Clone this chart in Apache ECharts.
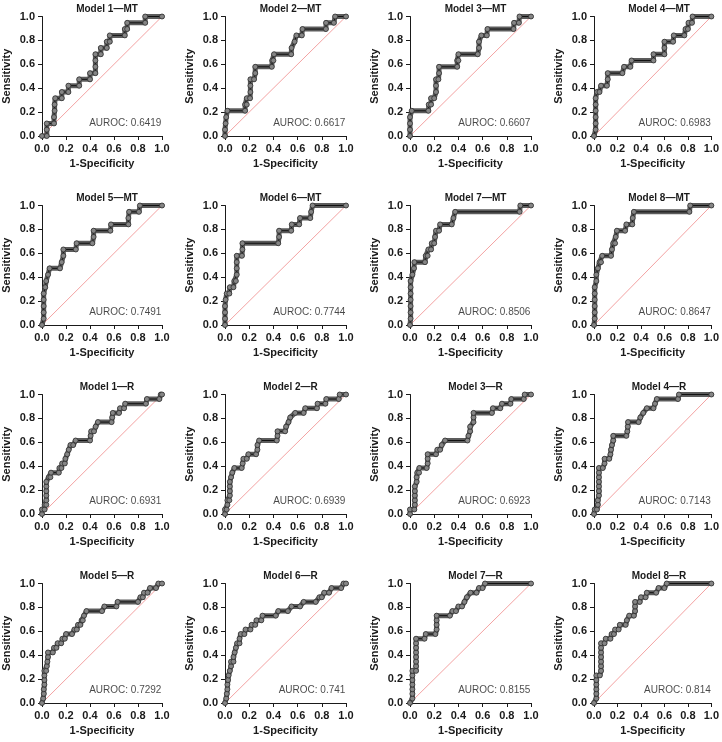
<!DOCTYPE html>
<html><head><meta charset="utf-8">
<script src="https://cdn.jsdelivr.net/npm/echarts@6/dist/echarts.min.js"></script>
<style>html,body{margin:0;padding:0;background:#fff}#c{width:722px;height:742px}</style>
</head><body><div id="c"></div>
<script>
const titles = ['Model 1\u2014MT','Model 2\u2014MT','Model 3\u2014MT','Model 4\u2014MT','Model 5\u2014MT','Model 6\u2014MT','Model 7\u2014MT','Model 8\u2014MT',
  'Model 1\u2014R','Model 2\u2014R','Model 3\u2014R','Model 4\u2014R','Model 5\u2014R','Model 6\u2014R','Model 7\u2014R','Model 8\u2014R'];
const aurocs = ['0.6419','0.6617','0.6607','0.6983','0.7491','0.7744','0.8506','0.8647','0.6931','0.6939','0.6923','0.7143','0.7292','0.741','0.8155','0.814'];
const axisTicks = [0, 0.2, 0.4, 0.6, 0.8, 1.0];
const diag = [[0,0],[1,1]];

const roc1MT = [[0,0],[0.04,0],[0.04,0.053],[0.04,0.105],[0.1,0.105],[0.1,0.158],[0.105,0.211],[0.105,0.263],[0.11,0.316],[0.165,0.316],[0.165,0.368],[0.22,0.368],[0.22,0.421],[0.31,0.421],[0.31,0.474],[0.4,0.474],[0.4,0.526],[0.445,0.526],[0.445,0.579],[0.445,0.632],[0.445,0.684],[0.49,0.684],[0.49,0.737],[0.54,0.737],[0.54,0.789],[0.565,0.789],[0.565,0.842],[0.69,0.842],[0.69,0.895],[0.71,0.895],[0.71,0.947],[0.86,0.947],[0.86,1],[1,1]];
const roc2MT = [[0,0],[0,0.053],[0.005,0.105],[0.01,0.158],[0.02,0.211],[0.166,0.211],[0.166,0.263],[0.18,0.263],[0.18,0.316],[0.207,0.316],[0.21,0.368],[0.21,0.421],[0.21,0.474],[0.24,0.474],[0.25,0.526],[0.25,0.579],[0.387,0.579],[0.39,0.632],[0.4,0.632],[0.405,0.684],[0.547,0.684],[0.55,0.737],[0.575,0.789],[0.59,0.842],[0.635,0.842],[0.64,0.895],[0.834,0.895],[0.835,0.947],[0.9,0.947],[0.91,1],[1,1]];
const roc3MT = [[0,0],[0,0.053],[0,0.105],[0,0.158],[0.014,0.211],[0.152,0.211],[0.155,0.263],[0.174,0.263],[0.174,0.316],[0.2,0.316],[0.215,0.368],[0.215,0.421],[0.215,0.474],[0.235,0.474],[0.24,0.526],[0.24,0.579],[0.39,0.579],[0.39,0.632],[0.4,0.632],[0.4,0.684],[0.56,0.684],[0.57,0.737],[0.57,0.789],[0.59,0.842],[0.635,0.842],[0.64,0.895],[0.856,0.895],[0.86,0.947],[0.9,0.947],[0.905,1],[1,1]];
const roc4MT = [[0,0],[0.014,0.053],[0.014,0.105],[0.014,0.158],[0.014,0.211],[0.014,0.263],[0.014,0.316],[0.025,0.368],[0.047,0.368],[0.06,0.421],[0.11,0.421],[0.117,0.474],[0.117,0.526],[0.242,0.526],[0.256,0.579],[0.31,0.579],[0.32,0.632],[0.507,0.632],[0.507,0.684],[0.6,0.684],[0.6,0.737],[0.6,0.789],[0.674,0.789],[0.68,0.842],[0.77,0.842],[0.78,0.895],[0.8,0.895],[0.805,0.947],[0.835,0.947],[0.84,1],[1,1]];
const roc5MT = [[0,0],[0.014,0.053],[0.014,0.105],[0.014,0.158],[0.014,0.211],[0.014,0.263],[0.027,0.316],[0.035,0.368],[0.05,0.421],[0.063,0.474],[0.15,0.474],[0.164,0.526],[0.178,0.579],[0.178,0.632],[0.282,0.632],[0.288,0.684],[0.42,0.684],[0.43,0.737],[0.43,0.789],[0.57,0.789],[0.575,0.842],[0.72,0.842],[0.72,0.895],[0.726,0.947],[0.808,0.947],[0.816,1],[1,1]];
const roc6MT = [[0,0],[0,0.053],[0,0.105],[0,0.158],[0.005,0.211],[0.014,0.263],[0.036,0.263],[0.04,0.316],[0.07,0.316],[0.077,0.368],[0.09,0.368],[0.097,0.421],[0.097,0.474],[0.097,0.526],[0.097,0.579],[0.14,0.579],[0.144,0.632],[0.144,0.684],[0.44,0.684],[0.447,0.737],[0.447,0.789],[0.547,0.789],[0.552,0.842],[0.613,0.842],[0.62,0.895],[0.705,0.895],[0.712,0.947],[0.724,1],[1,1]];
const roc7MT = [[0,0],[0.005,0.053],[0.005,0.105],[0.005,0.158],[0.005,0.211],[0.005,0.263],[0.005,0.316],[0.005,0.368],[0.02,0.421],[0.033,0.474],[0.036,0.526],[0.124,0.526],[0.13,0.579],[0.146,0.579],[0.152,0.632],[0.174,0.632],[0.18,0.684],[0.2,0.684],[0.207,0.737],[0.215,0.789],[0.24,0.789],[0.249,0.842],[0.345,0.842],[0.359,0.895],[0.373,0.947],[0.906,0.947],[0.912,1],[1,1]];
const roc8MT = [[0,0],[0.006,0.053],[0.006,0.105],[0.006,0.158],[0.006,0.211],[0.006,0.263],[0.006,0.316],[0.02,0.368],[0.02,0.421],[0.033,0.474],[0.047,0.526],[0.06,0.526],[0.07,0.579],[0.145,0.579],[0.153,0.632],[0.164,0.684],[0.18,0.684],[0.185,0.737],[0.195,0.789],[0.265,0.789],[0.276,0.842],[0.326,0.842],[0.33,0.895],[0.34,0.947],[0.813,0.947],[0.82,1],[1,1]];
const roc1R = [[0,0],[0,0.038],[0.022,0.038],[0.022,0.077],[0.036,0.077],[0.036,0.115],[0.036,0.154],[0.036,0.192],[0.036,0.231],[0.036,0.269],[0.056,0.308],[0.07,0.308],[0.075,0.346],[0.14,0.346],[0.145,0.385],[0.162,0.385],[0.168,0.423],[0.19,0.423],[0.195,0.462],[0.21,0.5],[0.223,0.538],[0.237,0.577],[0.26,0.577],[0.28,0.615],[0.40,0.615],[0.405,0.654],[0.41,0.692],[0.433,0.692],[0.447,0.731],[0.466,0.769],[0.58,0.769],[0.585,0.808],[0.59,0.846],[0.642,0.846],[0.65,0.885],[0.684,0.885],[0.693,0.923],[0.866,0.923],[0.874,0.962],[0.978,0.962],[0.99,1],[1,1]];
const roc2R = [[0,0],[0,0.038],[0.014,0.038],[0.02,0.077],[0.02,0.115],[0.036,0.115],[0.04,0.154],[0.04,0.192],[0.04,0.231],[0.04,0.269],[0.05,0.308],[0.06,0.346],[0.077,0.385],[0.138,0.385],[0.146,0.423],[0.152,0.462],[0.18,0.462],[0.193,0.5],[0.257,0.5],[0.268,0.538],[0.268,0.577],[0.282,0.615],[0.428,0.615],[0.434,0.654],[0.434,0.692],[0.497,0.692],[0.505,0.731],[0.525,0.769],[0.539,0.808],[0.58,0.846],[0.65,0.846],[0.663,0.885],[0.76,0.885],[0.765,0.923],[0.83,0.923],[0.837,0.962],[0.94,0.962],[0.948,1],[1,1]];
const roc3R = [[0,0],[0,0.038],[0.036,0.038],[0.04,0.077],[0.04,0.115],[0.04,0.154],[0.04,0.192],[0.04,0.231],[0.055,0.269],[0.055,0.308],[0.06,0.346],[0.075,0.346],[0.077,0.385],[0.138,0.385],[0.146,0.423],[0.146,0.462],[0.146,0.5],[0.215,0.5],[0.226,0.538],[0.249,0.538],[0.262,0.577],[0.29,0.615],[0.475,0.615],[0.483,0.654],[0.497,0.692],[0.497,0.731],[0.525,0.769],[0.525,0.808],[0.525,0.846],[0.677,0.846],[0.685,0.885],[0.746,0.885],[0.76,0.923],[0.83,0.923],[0.837,0.962],[0.94,0.962],[0.948,1],[1,1]];
const roc4R = [[0,0],[0.006,0.038],[0.025,0.038],[0.033,0.077],[0.033,0.115],[0.042,0.154],[0.042,0.192],[0.042,0.231],[0.042,0.269],[0.042,0.308],[0.042,0.346],[0.042,0.385],[0.075,0.385],[0.09,0.423],[0.09,0.462],[0.13,0.462],[0.14,0.5],[0.145,0.538],[0.153,0.577],[0.164,0.615],[0.164,0.654],[0.276,0.654],[0.284,0.692],[0.288,0.731],[0.29,0.769],[0.38,0.769],[0.395,0.808],[0.42,0.846],[0.45,0.885],[0.507,0.885],[0.52,0.923],[0.535,0.962],[0.716,0.962],[0.724,1],[1,1]];
const roc5R = [[0,0],[0.01,0.038],[0.015,0.077],[0.015,0.115],[0.02,0.154],[0.02,0.192],[0.02,0.231],[0.02,0.269],[0.035,0.269],[0.04,0.308],[0.045,0.346],[0.05,0.385],[0.05,0.423],[0.09,0.423],[0.1,0.462],[0.12,0.462],[0.13,0.5],[0.16,0.5],[0.17,0.538],[0.19,0.538],[0.2,0.577],[0.25,0.577],[0.27,0.615],[0.29,0.615],[0.3,0.654],[0.32,0.654],[0.33,0.692],[0.34,0.692],[0.35,0.731],[0.37,0.769],[0.5,0.769],[0.52,0.808],[0.62,0.808],[0.63,0.846],[0.8,0.846],[0.82,0.885],[0.84,0.885],[0.85,0.923],[0.88,0.923],[0.9,0.962],[0.95,0.962],[0.97,1],[1,1]];
const roc6R = [[0,0],[0.01,0.038],[0.015,0.077],[0.02,0.115],[0.02,0.154],[0.025,0.192],[0.03,0.231],[0.04,0.269],[0.05,0.308],[0.05,0.346],[0.07,0.346],[0.07,0.385],[0.08,0.423],[0.09,0.462],[0.1,0.5],[0.12,0.5],[0.12,0.538],[0.13,0.577],[0.16,0.577],[0.17,0.615],[0.21,0.615],[0.22,0.654],[0.25,0.654],[0.26,0.692],[0.3,0.692],[0.31,0.731],[0.42,0.731],[0.44,0.769],[0.52,0.769],[0.55,0.808],[0.62,0.808],[0.65,0.846],[0.75,0.846],[0.78,0.885],[0.8,0.885],[0.82,0.923],[0.86,0.923],[0.88,0.962],[0.96,0.962],[0.98,1],[1,1]];
const roc7R = [[0,0],[0.02,0.038],[0.02,0.077],[0.02,0.115],[0.02,0.154],[0.02,0.192],[0.02,0.231],[0.02,0.269],[0.05,0.269],[0.05,0.308],[0.05,0.346],[0.05,0.385],[0.05,0.423],[0.05,0.462],[0.05,0.5],[0.05,0.538],[0.12,0.538],[0.13,0.577],[0.21,0.577],[0.22,0.615],[0.22,0.654],[0.22,0.692],[0.22,0.731],[0.33,0.731],[0.35,0.769],[0.38,0.769],[0.4,0.808],[0.43,0.808],[0.45,0.846],[0.47,0.885],[0.5,0.923],[0.55,0.923],[0.57,0.962],[0.6,0.962],[0.62,1],[1,1]];
const roc8R = [[0,0],[0.02,0.038],[0.02,0.077],[0.02,0.115],[0.02,0.154],[0.02,0.192],[0.02,0.231],[0.05,0.231],[0.06,0.269],[0.06,0.308],[0.06,0.346],[0.06,0.385],[0.06,0.423],[0.06,0.462],[0.06,0.5],[0.09,0.5],[0.1,0.538],[0.14,0.538],[0.15,0.577],[0.17,0.577],[0.18,0.615],[0.21,0.615],[0.22,0.654],[0.27,0.654],[0.28,0.692],[0.3,0.731],[0.34,0.731],[0.35,0.769],[0.35,0.808],[0.35,0.846],[0.39,0.846],[0.4,0.885],[0.44,0.885],[0.45,0.923],[0.53,0.923],[0.55,0.962],[0.6,0.962],[0.62,1],[1,1]];

const curves = [roc1MT,roc2MT,roc3MT,roc4MT,roc5MT,roc6MT,roc7MT,roc8MT,roc1R,roc2R,roc3R,roc4R,roc5R,roc6R,roc7R,roc8R];

const FONT = "'Liberation Sans', Arial, Helvetica, sans-serif";
const colLeft = [42, 225, 410, 594];
const colWidth = [120, 121, 121, 120];
const rowTop = [16.5, 205.5, 394.5, 583.5];
const plotH = 119.5;

const grid = [], xAxis = [], yAxis = [], series = [], title = [];
curves.forEach((data, i) => {
  const r = Math.floor(i / 4), c = i % 4;
  grid.push({left: colLeft[c], top: rowTop[r], width: colWidth[c], height: plotH, containLabel: false});
  const axLine = {show: true, onZero: false, lineStyle: {color: '#1a1a1a', width: 1}};
  const tick = {show: true, inside: false, length: 4, lineStyle: {color: '#1a1a1a', width: 1}};
  const lab = {fontFamily: FONT, fontWeight: 'bold', fontSize: 11, color: '#1a1a1a', formatter: v => v.toFixed(1), showMinLabel: true, showMaxLabel: true};
  xAxis.push({type: 'value', gridIndex: i, min: axisTicks[0], max: axisTicks[axisTicks.length-1], interval: 0.2,
    axisLine: axLine, axisTick: tick, splitLine: {show: false}, axisLabel: Object.assign({margin: 7}, lab),
    name: '1-Specificity', nameLocation: 'middle', nameGap: 22,
    nameTextStyle: {fontFamily: FONT, fontWeight: 'bold', fontSize: 11, color: '#1a1a1a'}});
  yAxis.push({type: 'value', gridIndex: i, min: axisTicks[0], max: axisTicks[axisTicks.length-1], interval: 0.2,
    axisLine: axLine, axisTick: tick, splitLine: {show: false}, axisLabel: Object.assign({margin: 7}, lab),
    name: 'Sensitivity', nameLocation: 'middle', nameGap: 30,
    nameTextStyle: {fontFamily: FONT, fontWeight: 'bold', fontSize: 11, color: '#1a1a1a'}});
  title.push({text: titles[i], left: colLeft[c] + colWidth[c] / 2, top: rowTop[r] - 17, textAlign: 'center',
    textStyle: {fontFamily: FONT, fontWeight: 'bold', fontSize: 10, color: '#1a1a1a'}});
  series.push({type: 'line', xAxisIndex: i, yAxisIndex: i, data: diag, symbol: 'none', silent: true,
    lineStyle: {color: '#f08a8a', width: 0.8}, z: 1});
  series.push({type: 'line', xAxisIndex: i, yAxisIndex: i, data: data, symbol: 'none', silent: true,
    lineStyle: {color: 'rgba(70,70,70,0.88)', width: 5, cap: 'round', join: 'round'}, z: 2});
  series.push({type: 'line', xAxisIndex: i, yAxisIndex: i, data: data, symbol: 'circle', symbolSize: 5, showAllSymbol: true, silent: true,
    itemStyle: {color: '#858585', borderColor: '#2e2e2e', borderWidth: 0.8},
    lineStyle: {color: '#111', width: 1}, z: 3});
  series.push({type: 'scatter', xAxisIndex: i, yAxisIndex: i, data: [[0.995, 0.11]], symbolSize: 0, silent: true,
    label: {show: true, position: 'left', distance: 0, formatter: 'AUROC: ' + aurocs[i],
      fontFamily: FONT, fontSize: 10, color: '#1a1a1a'}, z: 4});
});

const chart = echarts.init(document.getElementById('c'), null, {renderer: 'canvas'});
chart.setOption({animation: false, backgroundColor: '#fff', title, grid, xAxis, yAxis, series});
</script>
</body></html>
